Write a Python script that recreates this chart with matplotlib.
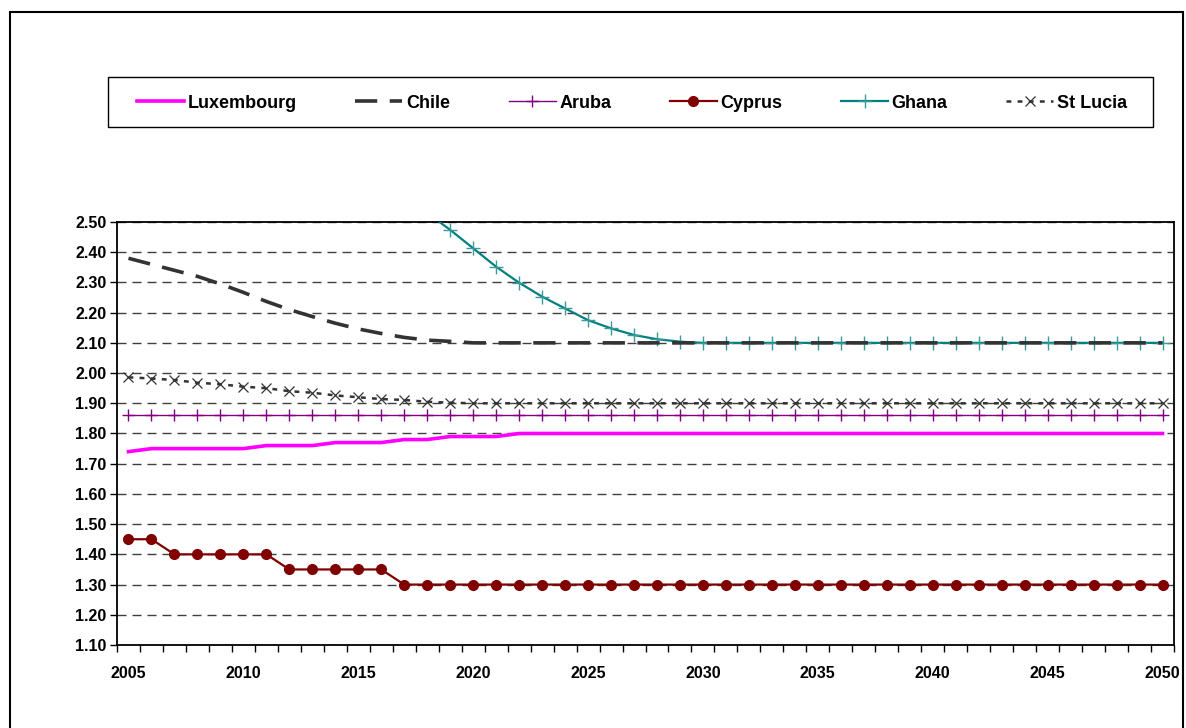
import matplotlib
matplotlib.use("Agg")
import matplotlib.pyplot as plt
from matplotlib.patches import Rectangle
from matplotlib.ticker import FixedLocator, FormatStrFormatter

plt.rcParams['font.family'] = ['Liberation Sans', 'DejaVu Sans']
plt.rcParams['font.weight'] = 'bold'
plt.rcParams['lines.scale_dashes'] = False

years = list(range(2005, 2051))

luxembourg = [1.74, 1.75, 1.75, 1.75, 1.75, 1.75, 1.76, 1.76, 1.76, 1.77,
              1.77, 1.77, 1.78, 1.78, 1.79, 1.79, 1.79, 1.80, 1.80, 1.80,
              1.80, 1.80, 1.80, 1.80, 1.80, 1.80, 1.80, 1.80, 1.80, 1.80,
              1.80, 1.80, 1.80, 1.80, 1.80, 1.80, 1.80, 1.80, 1.80, 1.80,
              1.80, 1.80, 1.80, 1.80, 1.80, 1.80]
chile = [2.38, 2.36, 2.34, 2.32, 2.295, 2.267, 2.237, 2.21, 2.187, 2.165,
         2.146, 2.131, 2.118, 2.109, 2.105, 2.10, 2.10, 2.10, 2.10, 2.10,
         2.10, 2.10, 2.10, 2.10, 2.10, 2.10, 2.10, 2.10, 2.10, 2.10,
         2.10, 2.10, 2.10, 2.10, 2.10, 2.10, 2.10, 2.10, 2.10, 2.10,
         2.10, 2.10, 2.10, 2.10, 2.10, 2.10]
aruba = [1.86, 1.86, 1.86, 1.86, 1.86, 1.86, 1.86, 1.86, 1.86, 1.86,
         1.86, 1.86, 1.86, 1.86, 1.86, 1.86, 1.86, 1.86, 1.86, 1.86,
         1.86, 1.86, 1.86, 1.86, 1.86, 1.86, 1.86, 1.86, 1.86, 1.86,
         1.86, 1.86, 1.86, 1.86, 1.86, 1.86, 1.86, 1.86, 1.86, 1.86,
         1.86, 1.86, 1.86, 1.86, 1.86, 1.86]
cyprus = [1.45, 1.45, 1.40, 1.40, 1.40, 1.40, 1.40, 1.35, 1.35, 1.35,
          1.35, 1.35, 1.30, 1.30, 1.30, 1.30, 1.30, 1.30, 1.30, 1.30,
          1.30, 1.30, 1.30, 1.30, 1.30, 1.30, 1.30, 1.30, 1.30, 1.30,
          1.30, 1.30, 1.30, 1.30, 1.30, 1.30, 1.30, 1.30, 1.30, 1.30,
          1.30, 1.30, 1.30, 1.30, 1.30, 1.30]
ghana = [4.10, 3.98, 3.86, 3.74, 3.60, 3.46, 3.32, 3.18, 3.05, 2.92,
         2.81, 2.70, 2.61, 2.53, 2.474, 2.413, 2.352, 2.299, 2.253, 2.214,
         2.175, 2.148, 2.126, 2.112, 2.104, 2.10, 2.10, 2.10, 2.10, 2.10,
         2.10, 2.10, 2.10, 2.10, 2.10, 2.10, 2.10, 2.10, 2.10, 2.10,
         2.10, 2.10, 2.10, 2.10, 2.10, 2.10]
st_lucia = [1.986, 1.982, 1.977, 1.968, 1.963, 1.955, 1.95, 1.94, 1.935, 1.926,
            1.92, 1.914, 1.911, 1.905, 1.902, 1.90, 1.90, 1.90, 1.90, 1.90,
            1.90, 1.90, 1.90, 1.90, 1.90, 1.90, 1.90, 1.90, 1.90, 1.90,
            1.90, 1.90, 1.90, 1.90, 1.90, 1.90, 1.90, 1.90, 1.90, 1.90,
            1.90, 1.90, 1.90, 1.90, 1.90, 1.90]

W, H = 1186, 728
fig = plt.figure(figsize=(W / 100, H / 100), dpi=100)
ax = fig.add_axes([117 / W, 1 - 645 / H, (1174 - 117) / W, (645 - 222) / H])

# outer chart border and legend box
fig.patches.append(Rectangle((10 / W, -0.02), (1183 - 10) / W, 1.02 - 12 / H,
                             transform=fig.transFigure, fill=False,
                             edgecolor='black', linewidth=1.5))
fig.patches.append(Rectangle((108 / W, 1 - 127 / H), (1153 - 108) / W, 50 / H,
                             transform=fig.transFigure, fill=False,
                             edgecolor='black', linewidth=1.0))

ax.plot(years, luxembourg, color='#ff00ff', linewidth=2.6, zorder=3,
        label='Luxembourg')
ax.plot(years, chile, color='#333333', linewidth=2.6, linestyle=(0, (16, 9)),
        zorder=6, label='Chile')
ax.plot(years, aruba, color='#800080', linewidth=1.0, marker='+',
        markersize=8, markeredgewidth=1.0, zorder=4, label='Aruba')
ax.plot(years, cyprus, color='#800000', linewidth=1.6, marker='o',
        markersize=7, zorder=4, label='Cyprus')
ax.plot(years, ghana, color='#008080', linewidth=1.6, marker='+',
        markersize=10, markeredgewidth=1.0, markeredgecolor='#3a9a9a',
        zorder=5, label='Ghana')
ax.plot(years, st_lucia, color='#333333', linewidth=1.8,
        linestyle=(0, (3.5, 4.5)), marker='x', markersize=7,
        markeredgewidth=0.9, markeredgecolor='#333333', zorder=4,
        label='St Lucia')

ax.set_xlim(2004.5, 2050.5)
ax.set_ylim(1.1, 2.5)

ax.set_yticks([1.1 + 0.1 * i for i in range(15)])
ax.yaxis.set_major_formatter(FormatStrFormatter('%.2f'))
ax.tick_params(axis='y', direction='out', length=5, width=1, pad=2.5,
               labelsize=11.5)

ax.set_xticks(list(range(2005, 2051, 5)))
ax.xaxis.set_minor_locator(FixedLocator([y + 0.5 for y in range(2004, 2051)]))
ax.tick_params(axis='x', which='major', length=0, pad=15, labelsize=11.5)
ax.tick_params(axis='x', which='minor', direction='out', length=5, width=1)

ax.grid(axis='y', color='#404040', linewidth=1.0, linestyle=(0, (6.5, 4.3)))
ax.set_axisbelow(True)
for s in ax.spines.values():
    s.set_linewidth(1.3)
    s.set_color('black')

handles, labels = ax.get_legend_handles_labels()
leg = fig.legend(handles, labels, loc='center', ncol=6,
                 bbox_to_anchor=(632 / W, 1 - 103 / H),
                 prop={'size': 13, 'weight': 'bold'}, handlelength=2.6,
                 handletextpad=0.2, columnspacing=3.25, frameon=False,
                 numpoints=1, borderaxespad=0)

fig.savefig('out.png', dpi=100)
